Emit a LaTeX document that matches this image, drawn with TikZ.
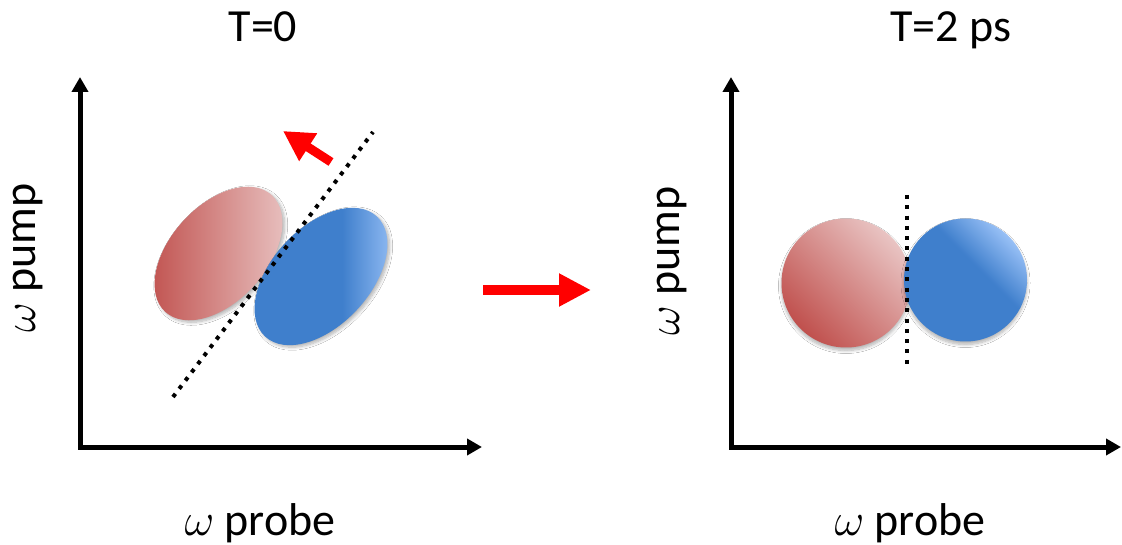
\RequirePackage{fix-cm}
\documentclass[tikz,border=0pt]{standalone}
\usepackage{fontspec}
\setmainfont{Carlito}
\usetikzlibrary{arrows.meta,shadows,shadows.blur,shapes.geometric}
\definecolor{rdark}{RGB}{192,80,77}
\definecolor{rlight}{RGB}{233,196,195}
\definecolor{bdark}{RGB}{63,127,204}
\definecolor{blight}{RGB}{152,192,246}
\definecolor{pptred}{RGB}{255,0,0}
\pgfdeclarehorizontalshading{redsh}{100bp}{color(0bp)=(rdark); color(25bp)=(rdark); color(75bp)=(rlight); color(100bp)=(rlight)}
\pgfdeclarehorizontalshading{bluesh}{100bp}{color(0bp)=(bdark); color(25bp)=(bdark); color(57bp)=(bdark); color(75bp)=(blight); color(100bp)=(blight)}
\tikzset{
  axisline/.style={line width=5pt, line join=miter, {Triangle[length=15pt,width=16pt]}-{Triangle[length=15pt,width=16pt]}},
  lbl/.style={font=\fontsize{46}{55}\selectfont, inner sep=0pt, text=black},
  blobshadow/.style 2 args={blur shadow={shadow xshift=#1, shadow yshift=#2, shadow blur steps=8, shadow opacity=30, shadow blur radius=3pt}},
  redblob/.style={draw=none, inner sep=0pt, outer sep=0pt, shading=redsh},
  blueblob/.style={draw=none, inner sep=0pt, outer sep=0pt, shading=bluesh},
  dotline/.style={line width=4pt, line cap=butt, dash pattern=on 4pt off 6.3pt},
  bigarrow/.style={draw=pptred, line width=10pt, -{Triangle[length=32pt,width=31pt]}},
  smallarrow/.style={draw=pptred, line width=9pt, -{Triangle[length=30pt,width=31pt]}}
}
\begin{document}
\begin{tikzpicture}[x=1pt,y=-1pt]
\fill[white] (0,0) rectangle (1122,545);
\useasboundingbox (0,0) rectangle (1122,545);
% titles
\node[lbl, anchor=base] (t0) at (263,42) {T=0};
\node[lbl, anchor=base] (t2) at (951,42) {T=2 ps};
% axes left
\coordinate (ly) at (80,77);
\coordinate (lo) at (80,447);
\coordinate (lx) at (482,447);
\draw[axisline] (ly) -- (lo) -- (lx);
% axes right
\coordinate (ry) at (731,77);
\coordinate (ro) at (731,447);
\coordinate (rx) at (1121,447);
\draw[axisline] (ry) -- (ro) -- (rx);
% axis labels
\node[lbl, anchor=base] (px1) at (260,535) {$\omega$ probe};
\node[lbl, anchor=base] (px2) at (910,535) {$\omega$ probe};
\node[lbl, anchor=base, rotate=90] (py1) at (35,258) {$\omega$ pump};
\node[lbl, anchor=base, rotate=90] (py2) at (679,261) {$\omega$ pump};
% left blobs
\node[ellipse, redblob, blobshadow={2.22pt}{-2.02pt}, minimum width=158pt, minimum height=96pt, rotate=47.7] (re) at (218.5,253.5) {};
\node[ellipse, blueblob, blobshadow={2.19pt}{-2.05pt}, minimum width=164pt, minimum height=98pt, rotate=47] (be) at (321,276.5) {};
\coordinate (d1) at (173,397);
\coordinate (d2) at (373,132);
\draw[dotline] (d1) -- (d2);
\coordinate (sa) at (331,162);
\coordinate (sb) at (283,131);
\draw[smallarrow] (sa) -- (sb);
% middle arrow
\coordinate (ba) at (483,290);
\coordinate (bb) at (591,290);
\draw[bigarrow] (ba) -- (bb);
% right blobs
\node[circle, redblob, blobshadow={0pt}{-3pt}, shading angle=45, minimum size=129pt] (rc) at (846,283) {};
\node[circle, blueblob, blobshadow={0pt}{-3pt}, shading angle=45, minimum size=123pt] (bc) at (965.5,280) {};
\coordinate (v1) at (907,195);
\coordinate (v2) at (907,368);
\draw[dotline] (v1) -- (v2);
\end{tikzpicture}
\end{document}
